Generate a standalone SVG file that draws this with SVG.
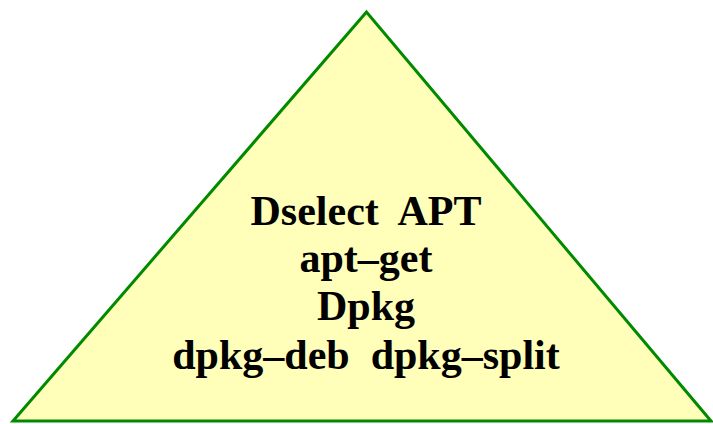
<svg xmlns="http://www.w3.org/2000/svg" width="713" height="424" viewBox="0 0 713 424">
<style>
.t{font-family:"Liberation Serif","Times New Roman",serif;font-weight:bold;font-size:42px;fill:#000;text-anchor:middle}
</style>
<rect width="713" height="424" fill="#fff"/>
<g id="pyramid">
<polygon points="366.5,12 13,421 711,421" fill="#ffffb9" stroke="#008a00" stroke-width="3"/>
<text class="t" x="366" y="225" xml:space="preserve">Dselect  APT</text>
<text class="t" x="366" y="272">apt–get</text>
<text class="t" x="366" y="320">Dpkg</text>
<text class="t" x="366" y="369" xml:space="preserve">dpkg–deb  dpkg–split</text>
</g>
</svg>
